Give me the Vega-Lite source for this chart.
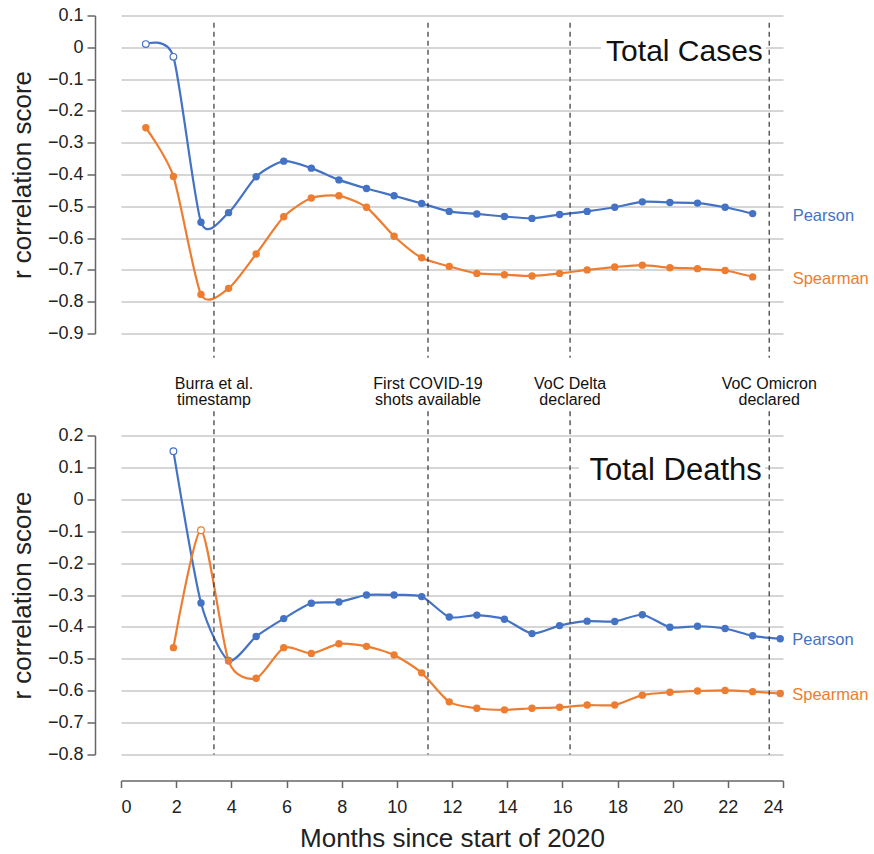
{
  "$schema": "https://vega.github.io/schema/vega-lite/v6.json",
  "background": "white",
  "padding": {"left": 9, "top": 6.5, "right": 0, "bottom": 0},
  "spacing": 102,
  "bounds": "flush",
  "config": {
    "view": {"stroke": null},
    "font": "Liberation Sans",
    "axis": {
      "domainColor": "#666666",
      "domainWidth": 1.5,
      "tickColor": "#666666",
      "tickWidth": 1.5,
      "labelColor": "#222222",
      "labelFontSize": 18,
      "titleColor": "#222222",
      "titleFontSize": 26,
      "titleFontWeight": "normal",
      "gridColor": "#c8c8c8",
      "gridWidth": 1.3
    }
  },
  "datasets": {
    "cases": [
      {"series": "Pearson", "month": 0.9, "r": 0.01, "open": true},
      {"series": "Pearson", "month": 1.9, "r": -0.03, "open": true},
      {"series": "Pearson", "month": 2.9, "r": -0.55, "open": false},
      {"series": "Pearson", "month": 3.9, "r": -0.52, "open": false},
      {"series": "Pearson", "month": 4.9, "r": -0.407, "open": false},
      {"series": "Pearson", "month": 5.9, "r": -0.358, "open": false},
      {"series": "Pearson", "month": 6.9, "r": -0.38, "open": false},
      {"series": "Pearson", "month": 7.9, "r": -0.417, "open": false},
      {"series": "Pearson", "month": 8.9, "r": -0.444, "open": false},
      {"series": "Pearson", "month": 9.9, "r": -0.467, "open": false},
      {"series": "Pearson", "month": 10.9, "r": -0.491, "open": false},
      {"series": "Pearson", "month": 11.9, "r": -0.516, "open": false},
      {"series": "Pearson", "month": 12.9, "r": -0.524, "open": false},
      {"series": "Pearson", "month": 13.9, "r": -0.532, "open": false},
      {"series": "Pearson", "month": 14.9, "r": -0.538, "open": false},
      {"series": "Pearson", "month": 15.9, "r": -0.526, "open": false},
      {"series": "Pearson", "month": 16.9, "r": -0.516, "open": false},
      {"series": "Pearson", "month": 17.9, "r": -0.503, "open": false},
      {"series": "Pearson", "month": 18.9, "r": -0.486, "open": false},
      {"series": "Pearson", "month": 19.9, "r": -0.488, "open": false},
      {"series": "Pearson", "month": 20.9, "r": -0.49, "open": false},
      {"series": "Pearson", "month": 21.9, "r": -0.503, "open": false},
      {"series": "Pearson", "month": 22.9, "r": -0.523, "open": false},
      {"series": "Spearman", "month": 0.9, "r": -0.253, "open": false},
      {"series": "Spearman", "month": 1.9, "r": -0.406, "open": false},
      {"series": "Spearman", "month": 2.9, "r": -0.777, "open": false},
      {"series": "Spearman", "month": 3.9, "r": -0.758, "open": false},
      {"series": "Spearman", "month": 4.9, "r": -0.65, "open": false},
      {"series": "Spearman", "month": 5.9, "r": -0.533, "open": false},
      {"series": "Spearman", "month": 6.9, "r": -0.474, "open": false},
      {"series": "Spearman", "month": 7.9, "r": -0.467, "open": false},
      {"series": "Spearman", "month": 8.9, "r": -0.503, "open": false},
      {"series": "Spearman", "month": 9.9, "r": -0.594, "open": false},
      {"series": "Spearman", "month": 10.9, "r": -0.662, "open": false},
      {"series": "Spearman", "month": 11.9, "r": -0.689, "open": false},
      {"series": "Spearman", "month": 12.9, "r": -0.711, "open": false},
      {"series": "Spearman", "month": 13.9, "r": -0.715, "open": false},
      {"series": "Spearman", "month": 14.9, "r": -0.719, "open": false},
      {"series": "Spearman", "month": 15.9, "r": -0.711, "open": false},
      {"series": "Spearman", "month": 16.9, "r": -0.7, "open": false},
      {"series": "Spearman", "month": 17.9, "r": -0.691, "open": false},
      {"series": "Spearman", "month": 18.9, "r": -0.685, "open": false},
      {"series": "Spearman", "month": 19.9, "r": -0.693, "open": false},
      {"series": "Spearman", "month": 20.9, "r": -0.696, "open": false},
      {"series": "Spearman", "month": 21.9, "r": -0.702, "open": false},
      {"series": "Spearman", "month": 22.9, "r": -0.722, "open": false}
    ],
    "deaths": [
      {"series": "Pearson", "month": 1.9, "r": 0.151, "open": true},
      {"series": "Pearson", "month": 2.9, "r": -0.325, "open": false},
      {"series": "Pearson", "month": 3.9, "r": -0.505, "open": false},
      {"series": "Pearson", "month": 4.9, "r": -0.43, "open": false},
      {"series": "Pearson", "month": 5.9, "r": -0.374, "open": false},
      {"series": "Pearson", "month": 6.9, "r": -0.326, "open": false},
      {"series": "Pearson", "month": 7.9, "r": -0.322, "open": false},
      {"series": "Pearson", "month": 8.9, "r": -0.3, "open": false},
      {"series": "Pearson", "month": 9.9, "r": -0.3, "open": false},
      {"series": "Pearson", "month": 10.9, "r": -0.305, "open": false},
      {"series": "Pearson", "month": 11.9, "r": -0.369, "open": false},
      {"series": "Pearson", "month": 12.9, "r": -0.363, "open": false},
      {"series": "Pearson", "month": 13.9, "r": -0.376, "open": false},
      {"series": "Pearson", "month": 14.9, "r": -0.421, "open": false},
      {"series": "Pearson", "month": 15.9, "r": -0.396, "open": false},
      {"series": "Pearson", "month": 16.9, "r": -0.382, "open": false},
      {"series": "Pearson", "month": 17.9, "r": -0.383, "open": false},
      {"series": "Pearson", "month": 18.9, "r": -0.362, "open": false},
      {"series": "Pearson", "month": 19.9, "r": -0.401, "open": false},
      {"series": "Pearson", "month": 20.9, "r": -0.398, "open": false},
      {"series": "Pearson", "month": 21.9, "r": -0.405, "open": false},
      {"series": "Pearson", "month": 22.9, "r": -0.428, "open": false},
      {"series": "Pearson", "month": 23.9, "r": -0.437, "open": false},
      {"series": "Spearman", "month": 1.9, "r": -0.465, "open": false},
      {"series": "Spearman", "month": 2.9, "r": -0.097, "open": true},
      {"series": "Spearman", "month": 3.9, "r": -0.507, "open": false},
      {"series": "Spearman", "month": 4.9, "r": -0.561, "open": false},
      {"series": "Spearman", "month": 5.9, "r": -0.465, "open": false},
      {"series": "Spearman", "month": 6.9, "r": -0.483, "open": false},
      {"series": "Spearman", "month": 7.9, "r": -0.453, "open": false},
      {"series": "Spearman", "month": 8.9, "r": -0.461, "open": false},
      {"series": "Spearman", "month": 9.9, "r": -0.488, "open": false},
      {"series": "Spearman", "month": 10.9, "r": -0.544, "open": false},
      {"series": "Spearman", "month": 11.9, "r": -0.635, "open": false},
      {"series": "Spearman", "month": 12.9, "r": -0.655, "open": false},
      {"series": "Spearman", "month": 13.9, "r": -0.66, "open": false},
      {"series": "Spearman", "month": 14.9, "r": -0.655, "open": false},
      {"series": "Spearman", "month": 15.9, "r": -0.652, "open": false},
      {"series": "Spearman", "month": 16.9, "r": -0.645, "open": false},
      {"series": "Spearman", "month": 17.9, "r": -0.645, "open": false},
      {"series": "Spearman", "month": 18.9, "r": -0.614, "open": false},
      {"series": "Spearman", "month": 19.9, "r": -0.605, "open": false},
      {"series": "Spearman", "month": 20.9, "r": -0.601, "open": false},
      {"series": "Spearman", "month": 21.9, "r": -0.599, "open": false},
      {"series": "Spearman", "month": 22.9, "r": -0.603, "open": false},
      {"series": "Spearman", "month": 23.9, "r": -0.609, "open": false}
    ],
    "events": [
      {"month": 3.37, "event": "Burra et al.|timestamp"},
      {"month": 11.13, "event": "First COVID-19|shots available"},
      {"month": 16.28, "event": "VoC Delta|declared"},
      {"month": 23.5, "event": "VoC Omicron|declared"}
    ]
  },
  "vconcat": [
    {
      "width": 662,
      "height": 318,
      "data": {"name": "cases"},
      "layer": [
        {
          "mark": {"type": "line", "interpolate": "cardinal", "tension": 0.3, "strokeWidth": 2.2},
          "encoding": {
            "x": {"field": "month", "type": "quantitative", "scale": {"domain": [0, 24], "nice": false}, "axis": null},
            "y": {"field": "r", "type": "quantitative", "scale": {"domain": [-0.9, 0.1], "nice": false, "zero": false},
                  "axis": {"title": "r correlation score", "offset": 26, "tickSize": 8, "labelPadding": 4, "tickCount": 10, "format": ".1~f", "labelExpr": "replace(datum.label, '-', '\u2212')", "grid": true, "titlePadding": 12}},
            "color": {"field": "series", "type": "nominal", "scale": {"domain": ["Pearson", "Spearman"], "range": ["#4472C4", "#ED7D31"]}, "legend": null}
          }
        },
        {
          "data": {"values": [{}]},
          "mark": {"type": "rect", "color": "white"},
          "encoding": {"x": {"datum": 17.4}, "x2": {"datum": 23.38}, "y": {"datum": 0.012}, "y2": {"datum": -0.012}}
        },
        {
          "data": {"name": "events"},
          "mark": {"type": "rule", "strokeDash": [5, 4], "color": "#333333", "strokeWidth": 1.2},
          "encoding": {"x": {"field": "month", "type": "quantitative"}, "y": {"datum": 0.077}, "y2": {"datum": -0.976}}
        },
        {
          "data": {"name": "events"},
          "mark": {"type": "text", "lineBreak": "|", "fontSize": 16, "lineHeight": 16, "align": "center", "baseline": "middle", "color": "#111111"},
          "encoding": {"x": {"field": "month", "type": "quantitative"}, "y": {"datum": -1.06}, "text": {"field": "event"}}
        },
        {
          "transform": [{"filter": "!datum.open"}],
          "mark": {"type": "point", "filled": true, "size": 55, "opacity": 1},
          "encoding": {
            "x": {"field": "month", "type": "quantitative"},
            "y": {"field": "r", "type": "quantitative"},
            "color": {"field": "series", "type": "nominal", "legend": null}
          }
        },
        {
          "transform": [{"filter": "datum.open"}],
          "mark": {"type": "point", "filled": false, "fill": "white", "size": 45, "strokeWidth": 1.2, "opacity": 1},
          "encoding": {
            "x": {"field": "month", "type": "quantitative"},
            "y": {"field": "r", "type": "quantitative"},
            "color": {"field": "series", "type": "nominal", "legend": null}
          }
        },
        {
          "transform": [{"filter": "datum.month == 22.9"}],
          "mark": {"type": "text", "align": "left", "baseline": "middle", "dx": 40, "dy": 2, "fontSize": 16.5},
          "encoding": {
            "x": {"field": "month", "type": "quantitative"},
            "y": {"field": "r", "type": "quantitative"},
            "text": {"field": "series"},
            "color": {"field": "series", "type": "nominal", "legend": null}
          }
        },
        {
          "data": {"values": [{}]},
          "mark": {"type": "text", "align": "right", "baseline": "alphabetic", "fontSize": 30, "color": "#111111"},
          "encoding": {"x": {"datum": 23.27}, "y": {"datum": -0.043}, "text": {"value": "Total Cases"}}
        }
      ]
    },
    {
      "width": 662,
      "height": 319,
      "data": {"name": "deaths"},
      "layer": [
        {
          "mark": {"type": "line", "interpolate": "cardinal", "tension": 0.3, "strokeWidth": 2.2},
          "encoding": {
            "x": {"field": "month", "type": "quantitative", "scale": {"domain": [0, 24], "nice": false},
                  "axis": {"title": "Months since start of 2020", "offset": 26, "tickSize": 7, "labelPadding": 11, "tickCount": 12, "grid": false, "titlePadding": 9}},
            "y": {"field": "r", "type": "quantitative", "scale": {"domain": [-0.8, 0.2], "nice": false, "zero": false},
                  "axis": {"title": "r correlation score", "offset": 26, "tickSize": 8, "labelPadding": 4, "tickCount": 10, "format": ".1~f", "labelExpr": "replace(datum.label, '-', '\u2212')", "grid": true, "titlePadding": 12}},
            "color": {"field": "series", "type": "nominal", "scale": {"domain": ["Pearson", "Spearman"], "range": ["#4472C4", "#ED7D31"]}, "legend": null}
          }
        },
        {
          "data": {"values": [{}]},
          "mark": {"type": "rect", "color": "white"},
          "encoding": {"x": {"datum": 16.6}, "x2": {"datum": 23.35}, "y": {"datum": 0.112}, "y2": {"datum": 0.088}}
        },
        {
          "data": {"name": "events"},
          "mark": {"type": "rule", "strokeDash": [5, 4], "color": "#333333", "strokeWidth": 1.2},
          "encoding": {"x": {"field": "month", "type": "quantitative"}, "y": {"datum": 0.276}, "y2": {"datum": -0.8}}
        },
        {
          "transform": [{"filter": "!datum.open"}],
          "mark": {"type": "point", "filled": true, "size": 55, "opacity": 1},
          "encoding": {
            "x": {"field": "month", "type": "quantitative"},
            "y": {"field": "r", "type": "quantitative"},
            "color": {"field": "series", "type": "nominal", "legend": null}
          }
        },
        {
          "transform": [{"filter": "datum.open"}],
          "mark": {"type": "point", "filled": false, "fill": "white", "size": 45, "strokeWidth": 1.2, "opacity": 1},
          "encoding": {
            "x": {"field": "month", "type": "quantitative"},
            "y": {"field": "r", "type": "quantitative"},
            "color": {"field": "series", "type": "nominal", "legend": null}
          }
        },
        {
          "transform": [{"filter": "datum.month == 23.9"}],
          "mark": {"type": "text", "align": "left", "baseline": "middle", "dx": 12, "dy": 1, "fontSize": 16.5},
          "encoding": {
            "x": {"field": "month", "type": "quantitative"},
            "y": {"field": "r", "type": "quantitative"},
            "text": {"field": "series"},
            "color": {"field": "series", "type": "nominal", "legend": null}
          }
        },
        {
          "data": {"values": [{}]},
          "mark": {"type": "text", "align": "right", "baseline": "alphabetic", "fontSize": 31, "color": "#111111"},
          "encoding": {"x": {"datum": 23.23}, "y": {"datum": 0.0595}, "text": {"value": "Total Deaths"}}
        }
      ]
    }
  ]
}
